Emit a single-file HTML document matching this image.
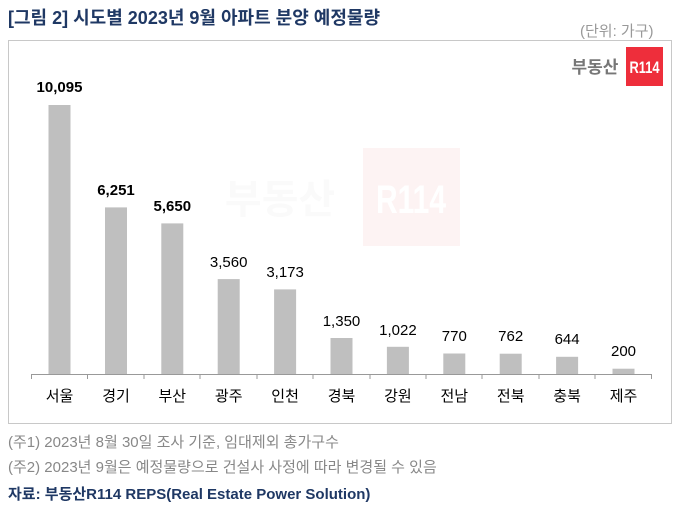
<!DOCTYPE html>
<html><head><meta charset="utf-8"><style>
body{margin:0;background:#fff;width:675px;height:509px;overflow:hidden;position:relative;font-family:"Liberation Sans","Noto Sans CJK KR",sans-serif}
.a{position:absolute;white-space:nowrap}
</style></head><body>
<div class="a" style="left:8px;top:4px;font-size:18px;font-weight:bold;color:#1f3864">[그림 2] 시도별 2023년 9월 아파트 분양 예정물량</div>
<div class="a" style="left:580px;top:20px;font-size:15px;color:#999">(단위: 가구)</div>
<div class="a" style="left:8px;top:40px;width:662px;height:382px;border:1px solid #c8c8c8"></div>
<svg class="a" style="left:0;top:0" width="675" height="509">
<rect x="363" y="148" width="97" height="98" fill="#fdf3f3"/>
<text x="280" y="213" font-size="40" font-weight="bold" fill="#fafafa" text-anchor="middle" font-family="Noto Sans CJK KR,sans-serif">부동산</text>
<text x="411" y="213" font-size="40" font-weight="bold" fill="#fff" text-anchor="middle" textLength="70" lengthAdjust="spacingAndGlyphs">R114</text>
<text x="595" y="73" font-size="17" font-weight="bold" fill="#777" text-anchor="middle" font-family="Noto Sans CJK KR,sans-serif">부동산</text>
<rect x="626" y="47" width="37" height="39" fill="#ee2e3b"/>
<text x="644.5" y="73" font-size="17" font-weight="bold" fill="#fff" text-anchor="middle" textLength="30" lengthAdjust="spacingAndGlyphs">R114</text>
<line x1="31" y1="374.5" x2="652" y2="374.5" stroke="#999"/>
<g stroke="#999">
<line x1="31.5" y1="374" x2="31.5" y2="379"/><line x1="87.5" y1="374" x2="87.5" y2="379"/><line x1="144" y1="374" x2="144" y2="379"/><line x1="200" y1="374" x2="200" y2="379"/><line x1="257" y1="374" x2="257" y2="379"/><line x1="313" y1="374" x2="313" y2="379"/><line x1="370" y1="374" x2="370" y2="379"/><line x1="426" y1="374" x2="426" y2="379"/><line x1="482" y1="374" x2="482" y2="379"/><line x1="539" y1="374" x2="539" y2="379"/><line x1="595" y1="374" x2="595" y2="379"/><line x1="651.5" y1="374" x2="651.5" y2="379"/>
</g>
<g fill="#bfbfbf">
<rect x="48.5" y="105" width="22" height="269"/>
<rect x="105" y="207.4" width="22" height="166.6"/>
<rect x="161.3" y="223.4" width="22" height="150.6"/>
<rect x="217.7" y="279.1" width="22" height="94.9"/>
<rect x="274.1" y="289.4" width="22" height="84.6"/>
<rect x="330.5" y="338" width="22" height="36"/>
<rect x="386.9" y="346.8" width="22" height="27.2"/>
<rect x="443.3" y="353.5" width="22" height="20.5"/>
<rect x="499.7" y="353.7" width="22" height="20.3"/>
<rect x="556.1" y="356.8" width="22" height="17.2"/>
<rect x="612.5" y="368.7" width="22" height="5.3"/>
</g>
<g font-size="15" text-anchor="middle" fill="#000">
<text x="59.5" y="92" font-weight="bold">10,095</text>
<text x="116" y="195" font-weight="bold">6,251</text>
<text x="172.3" y="211" font-weight="bold">5,650</text>
<text x="228.7" y="267">3,560</text>
<text x="285.1" y="277">3,173</text>
<text x="341.5" y="326">1,350</text>
<text x="397.9" y="335">1,022</text>
<text x="454.3" y="341">770</text>
<text x="510.7" y="341">762</text>
<text x="567.1" y="344">644</text>
<text x="623.5" y="356">200</text>
</g>
<g font-size="15" text-anchor="middle" fill="#000" font-family="Noto Sans CJK KR,sans-serif">
<text x="59.5" y="401">서울</text><text x="116" y="401">경기</text><text x="172.3" y="401">부산</text><text x="228.7" y="401">광주</text><text x="285.1" y="401">인천</text><text x="341.5" y="401">경북</text><text x="397.9" y="401">강원</text><text x="454.3" y="401">전남</text><text x="510.7" y="401">전북</text><text x="567.1" y="401">충북</text><text x="623.5" y="401">제주</text>
</g>
</svg>
<div class="a" style="left:8px;top:431px;font-size:15px;color:#888">(주1) 2023년 8월 30일 조사 기준, 임대제외 총가구수</div>
<div class="a" style="left:8px;top:456px;font-size:15px;color:#888">(주2) 2023년 9월은 예정물량으로 건설사 사정에 따라 변경될 수 있음</div>
<div class="a" style="left:8px;top:483px;font-size:15px;font-weight:bold;color:#1f3864">자료: 부동산R114 REPS(Real Estate Power Solution)</div>
</body></html>
